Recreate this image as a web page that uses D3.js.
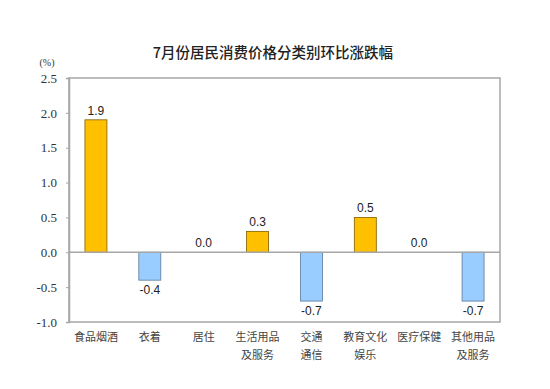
<!DOCTYPE html>
<html>
<head>
<meta charset="utf-8">
<script src="https://cdn.jsdelivr.net/npm/d3@7"></script>
<style>
  body { margin: 0; background: #fff; }
</style>
</head>
<body>
<div id="chart"></div>
<script>
const categories = [
  ["食品烟酒"], ["衣着"], ["居住"], ["生活用品", "及服务"],
  ["交通", "通信"], ["教育文化", "娱乐"], ["医疗保健"], ["其他用品", "及服务"]
];
const values = [1.9, -0.4, 0.0, 0.3, -0.7, 0.5, 0.0, -0.7];
const yTicks = [-1.0, -0.5, 0.0, 0.5, 1.0, 1.5, 2.0, 2.5];

const W = 550, H = 389;
const margin = {top: 78, right: 50, bottom: 67, left: 69};
const width = W - margin.left - margin.right,
      height = H - margin.top - margin.bottom;

// plain hyphen minus, like the original
const fmt = d => d3.format(".1f")(d).replace("\u2212", "-");

const svg = d3.select("#chart").append("svg")
  .attr("width", W).attr("height", H);

svg.append("text")
  .attr("x", 273).attr("y", 58)
  .attr("text-anchor", "middle")
  .style("font-family", "'Noto Sans CJK SC', sans-serif")
  .style("font-size", "14.5px")
  .style("font-weight", "500")
  .attr("fill", "#222")
  .text("7月份居民消费价格分类别环比涨跌幅");

svg.append("text")
  .attr("x", 47).attr("y", 66)
  .attr("text-anchor", "middle")
  .style("font-family", "'Liberation Serif', serif")
  .style("font-size", "10px")
  .attr("fill", "#333")
  .text("(%)");

const g = svg.append("g").attr("transform", `translate(${margin.left},${margin.top})`);

const x = d3.scaleBand().domain(d3.range(categories.length)).range([0, width]);
const y = d3.scaleLinear().domain([-1.0, 2.5]).range([height, 0]);

// frame
g.append("rect")
  .attr("x", 0).attr("y", 0).attr("width", width).attr("height", height)
  .attr("fill", "none").attr("stroke", "#a6a6a6").attr("stroke-width", 1.5);

// y axis
const yAxis = g.append("g")
  .call(d3.axisLeft(y).tickValues(yTicks).tickFormat(fmt).tickSize(3).tickPadding(9));
yAxis.select(".domain").attr("stroke", "#a6a6a6").attr("stroke-width", 1.5);
yAxis.selectAll(".tick line").attr("stroke", "#a6a6a6");
yAxis.selectAll("text")
  .style("font-family", "'Liberation Serif', serif")
  .style("font-size", "13px")
  .attr("fill", "#333");

// bars
g.selectAll(".bar")
  .data(values)
  .join("rect")
  .attr("class", "bar")
  .attr("x", (d, i) => x(i) + x.bandwidth() / 2 - 11)
  .attr("width", 22)
  .attr("y", d => y(Math.max(0, d)))
  .attr("height", d => Math.abs(y(d) - y(0)))
  .attr("fill", d => d >= 0 ? "#ffc000" : "#99ccff")
  .attr("stroke", d => d >= 0 ? "#7f6000" : "#5a7a9a")
  .attr("stroke-width", 0.8);

// zero line
g.append("line")
  .attr("x1", 0).attr("x2", width)
  .attr("y1", y(0)).attr("y2", y(0))
  .attr("stroke", "#a6a6a6").attr("stroke-width", 1.5);

// value labels
g.selectAll(".val")
  .data(values)
  .join("text")
  .attr("class", "val")
  .attr("x", (d, i) => x(i) + x.bandwidth() / 2)
  .attr("y", d => d < 0 ? y(d) + 14 : y(d) - 5)
  .attr("text-anchor", "middle")
  .style("font-family", "'Liberation Sans', Arial, sans-serif")
  .style("font-size", "12px")
  .attr("fill", "#222")
  .text(fmt);

// x labels
const xl = g.selectAll(".xl")
  .data(categories)
  .join("text")
  .attr("class", "xl")
  .attr("x", (d, i) => x(i) + x.bandwidth() / 2)
  .attr("y", height + 19)
  .attr("text-anchor", "middle")
  .style("font-family", "'Noto Sans CJK SC', sans-serif")
  .style("font-size", "11px")
  .attr("fill", "#444");
xl.each(function(d) {
  const t = d3.select(this);
  d.forEach((line, k) => {
    t.append("tspan")
      .attr("x", t.attr("x"))
      .attr("dy", k === 0 ? 0 : 18)
      .text(line);
  });
});
</script>
</body>
</html>
